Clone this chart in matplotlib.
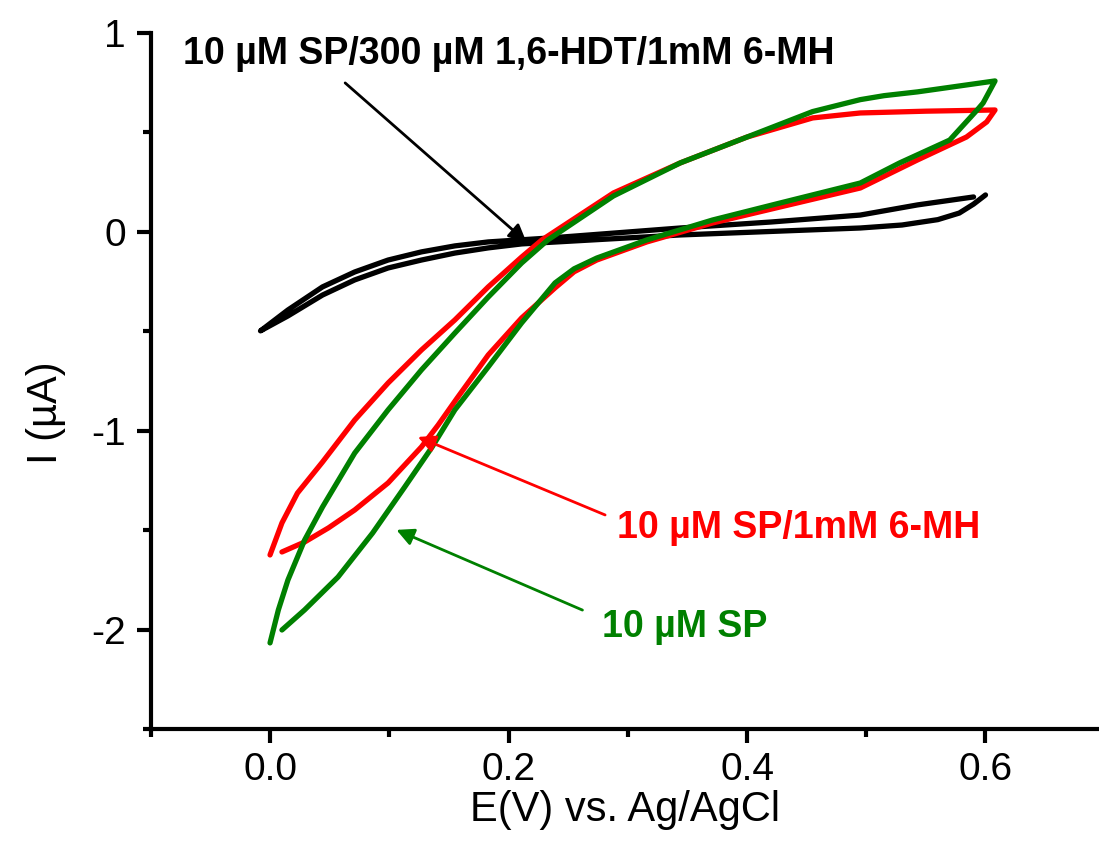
import numpy as np
import matplotlib
matplotlib.use("Agg")
import matplotlib.pyplot as plt
from matplotlib.ticker import MultipleLocator, FormatStrFormatter

plt.rcParams['font.family'] = ['Liberation Sans', 'DejaVu Sans']
plt.rcParams['axes.unicode_minus'] = False

# CV loops: E (V) and I (uA)
# 10 uM SP/300 uM 1,6-HDT/1mM 6-MH (black)
blk_E = [0.590, 0.543, 0.495, 0.420, 0.344, 0.235, 0.183, 0.155, 0.127, 0.099, 0.071, 0.044,
         0.015, -0.008,
         0.015, 0.044, 0.071, 0.099, 0.127, 0.155, 0.183, 0.211, 0.344, 0.495, 0.530, 0.560,
         0.578, 0.590, 0.600]
blk_I = [0.176, 0.136, 0.085, 0.050, 0.020, -0.030, -0.050, -0.070, -0.100, -0.141, -0.201, -0.276,
         -0.392, -0.497,
         -0.422, -0.317, -0.241, -0.181, -0.141, -0.106, -0.080, -0.060, -0.015, 0.020, 0.035, 0.062,
         0.095, 0.140, 0.186]

# 10 uM SP/1mM 6-MH (red)
red_E = [0.010, 0.029, 0.049, 0.071, 0.099, 0.127, 0.141, 0.157, 0.183, 0.211, 0.239, 0.255,
         0.274, 0.316, 0.371, 0.428, 0.495, 0.543, 0.584, 0.601, 0.608,
         0.550, 0.495, 0.455, 0.400, 0.344, 0.288, 0.228, 0.211, 0.183, 0.155, 0.127, 0.099,
         0.071, 0.044, 0.023, 0.010, 0.000]
red_I = [-1.608, -1.558, -1.487, -1.397, -1.261, -1.080, -0.970, -0.834, -0.618, -0.432, -0.281, -0.200,
         -0.141, -0.050, 0.045, 0.126, 0.221, 0.362, 0.477, 0.553, 0.613,
         0.607, 0.598, 0.573, 0.477, 0.347, 0.196, -0.040, -0.126, -0.276, -0.442, -0.593, -0.759,
         -0.945, -1.156, -1.312, -1.462, -1.623]

# 10 uM SP (green)
grn_E = [0.010, 0.029, 0.057, 0.086, 0.113, 0.136, 0.155, 0.183, 0.211, 0.239, 0.255, 0.274,
         0.316, 0.371, 0.428, 0.495, 0.528, 0.570, 0.593, 0.598, 0.608,
         0.543, 0.515, 0.495, 0.455, 0.400, 0.344, 0.288, 0.233, 0.211, 0.183, 0.155, 0.127,
         0.099, 0.071, 0.044, 0.029, 0.015, 0.007, 0.000]
grn_I = [-2.000, -1.899, -1.734, -1.513, -1.281, -1.080, -0.894, -0.678, -0.457, -0.256, -0.185, -0.131,
         -0.040, 0.060, 0.146, 0.246, 0.347, 0.462, 0.613, 0.648, 0.759,
         0.704, 0.685, 0.665, 0.605, 0.477, 0.347, 0.181, -0.040, -0.156, -0.327, -0.508, -0.693,
         -0.894, -1.111, -1.382, -1.548, -1.749, -1.899, -2.065]

fig = plt.figure(figsize=(10.99, 8.41), dpi=100)
ax = fig.add_axes([0.1372, 0.1326, 0.8626, 0.8282])

lw = 3.8
for E, I, c in [(blk_E, blk_I, 'black'), (red_E, red_I, '#FF0000'), (grn_E, grn_I, '#008000')]:
    ax.plot(E, I, color=c, lw=lw, solid_capstyle='round', solid_joinstyle='round')

# annotations
lab_kw = dict(fontsize=27, fontweight='bold', va='center', ha='left')
ax.text(-0.073, 0.894, '10 \u00b5M SP/300 \u00b5M 1,6-HDT/1mM 6-MH', color='black', **lab_kw)
ax.text(0.291, -1.487, '10 \u00b5M SP/1mM 6-MH', color='#FF0000', **lab_kw)
ax.text(0.278, -1.985, '10 \u00b5M SP', color='#008000', **lab_kw)

arr = dict(arrowstyle='-|>', lw=2.0, mutation_scale=26, shrinkA=0, shrinkB=0)
ax.annotate('', xy=(0.215, -0.05), xytext=(0.063, 0.749),
            arrowprops=dict(color='black', **arr))
ax.annotate('', xy=(0.124, -1.030), xytext=(0.281, -1.422),
            arrowprops=dict(color='#FF0000', **arr))
ax.annotate('', xy=(0.106, -1.497), xytext=(0.262, -1.90),
            arrowprops=dict(color='#008000', **arr))

ax.set_xlim(-0.1, 0.695)
ax.set_ylim(-2.5, 1.0)
ax.spines['top'].set_visible(False)
ax.spines['right'].set_visible(False)
for s in ('left', 'bottom'):
    ax.spines[s].set_linewidth(3)
    ax.spines[s].set_capstyle('projecting')

ax.xaxis.set_major_locator(MultipleLocator(0.2))
ax.xaxis.set_minor_locator(MultipleLocator(0.1))
ax.yaxis.set_major_locator(MultipleLocator(1))
ax.yaxis.set_minor_locator(MultipleLocator(0.5))
ax.xaxis.set_major_formatter(FormatStrFormatter('%.1f'))
ax.yaxis.set_major_formatter(FormatStrFormatter('%d'))
ax.tick_params(which='major', direction='out', length=10, width=3, labelsize=28, pad=6)
ax.tick_params(which='minor', direction='out', length=6, width=3)
ax.tick_params(axis='y', which='major', pad=8)

ax.set_xlabel('E(V) vs. Ag/AgCl', fontsize=30, labelpad=2)
ax.set_ylabel('I (\u00b5A)', fontsize=30)
ax.yaxis.set_label_coords(-0.089, 0.455)

fig.savefig('out.png', dpi=100)
